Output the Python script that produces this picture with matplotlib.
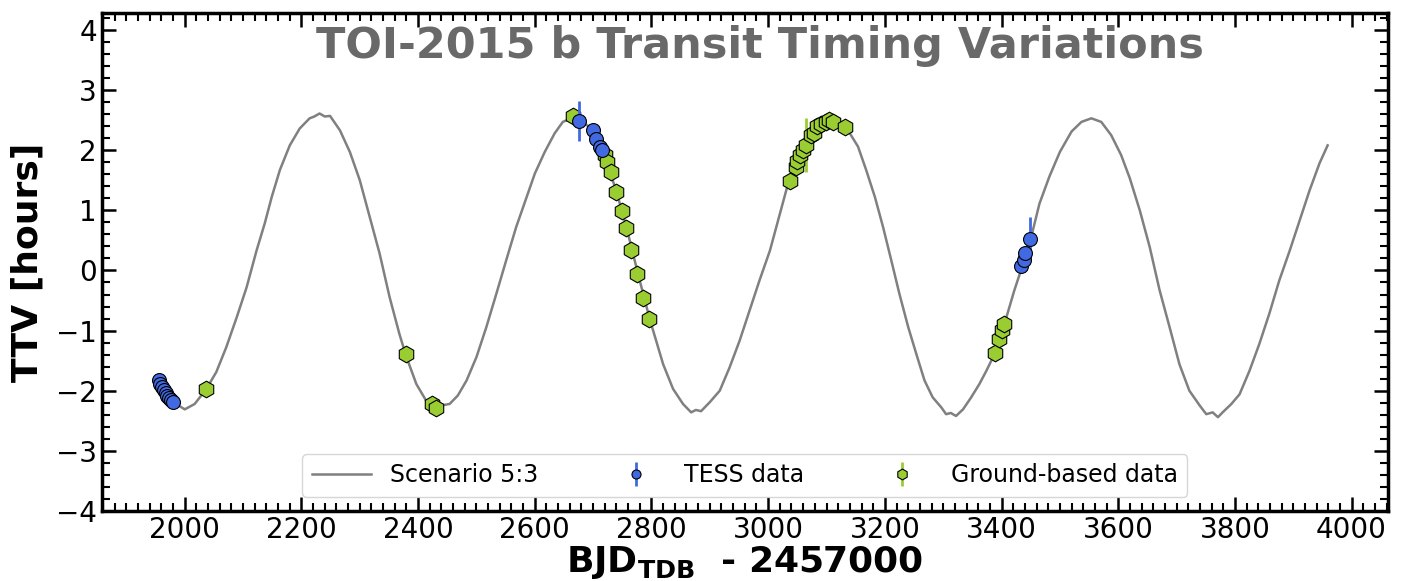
import numpy as np
import matplotlib.pyplot as plt
from matplotlib.ticker import MultipleLocator

# model curve, scenario 5:3
model_t = [1955, 1980, 2000, 2017, 2037, 2054, 2071, 2089, 2106, 2123, 2137, 2149,
           2163, 2180, 2197, 2214, 2222, 2231, 2240, 2249, 2266, 2283, 2300, 2317,
           2334, 2351, 2368, 2380, 2397, 2414, 2437, 2454, 2468, 2483, 2500, 2517,
           2534, 2551, 2568, 2586, 2600, 2617, 2634, 2648, 2660, 2670, 2685, 2700,
           2712, 2723, 2740, 2757, 2777, 2797, 2820, 2837, 2854, 2868, 2876, 2885,
           2900, 2917, 2934, 2951, 2968, 2985, 3003, 3020, 3034, 3048, 3065, 3083,
           3105, 3122, 3140, 3154, 3168, 3183, 3197, 3211, 3225, 3240, 3254, 3268,
           3282, 3297, 3305, 3313, 3322, 3334, 3348, 3362, 3374, 3388, 3405, 3422,
           3437, 3451, 3465, 3482, 3500, 3520, 3537, 3554, 3571, 3588, 3605, 3620,
           3637, 3654, 3671, 3688, 3705, 3722, 3740, 3751, 3762, 3771, 3779, 3794,
           3808, 3825, 3842, 3859, 3876, 3894, 3911, 3928, 3945, 3959]
model_ttv = [-1.83, -2.19, -2.31, -2.22, -1.97, -1.69, -1.28, -0.78, -0.28, 0.33, 0.78, 1.22,
             1.67, 2.08, 2.36, 2.53, 2.56, 2.61, 2.56, 2.57, 2.33, 1.97, 1.50, 0.89,
             0.28, -0.44, -1.06, -1.44, -1.89, -2.17, -2.25, -2.22, -2.08, -1.83, -1.44, -0.94,
             -0.39, 0.17, 0.72, 1.22, 1.61, 1.97, 2.28, 2.47, 2.52, 2.55, 2.45, 2.33,
             2.06, 1.81, 1.31, 0.72, -0.06, -0.81, -1.56, -1.97, -2.22, -2.36, -2.32, -2.34,
             -2.19, -2.00, -1.61, -1.17, -0.67, -0.17, 0.33, 0.94, 1.44, 1.72, 2.06, 2.36,
             2.53, 2.47, 2.28, 2.06, 1.67, 1.22, 0.72, 0.17, -0.39, -0.94, -1.39, -1.83,
             -2.11, -2.28, -2.39, -2.37, -2.42, -2.31, -2.11, -1.89, -1.67, -1.39, -0.89, -0.33,
             0.11, 0.56, 1.11, 1.56, 1.97, 2.31, 2.47, 2.53, 2.47, 2.25, 1.92, 1.53,
             1.00, 0.39, -0.33, -0.94, -1.56, -2.00, -2.25, -2.39, -2.36, -2.44, -2.36, -2.22,
             -2.06, -1.67, -1.22, -0.72, -0.17, 0.33, 0.83, 1.33, 1.78, 2.08]

# TESS transits
tess_t = [1955, 1958, 1961, 1964, 1967, 1970, 1973, 1977, 1980,
          2676, 2700, 2705, 2712, 2716,
          3434, 3438, 3441, 3448]
tess_ttv = [-1.83, -1.88, -1.93, -1.98, -2.03, -2.08, -2.12, -2.16, -2.19,
            2.49, 2.33, 2.18, 2.06, 2.01,
            0.07, 0.17, 0.29, 0.53]
tess_err = [0.02, 0.02, 0.02, 0.02, 0.02, 0.02, 0.02, 0.02, 0.02,
            0.33, 0.03, 0.03, 0.03, 0.03,
            0.03, 0.03, 0.03, 0.36]

# ground-based transits
gb_t = [2037, 2379, 2424, 2431,
        2666, 2720, 2723, 2730, 2739, 2749, 2756, 2765, 2776, 2786, 2796,
        3037, 3047, 3050, 3055, 3059, 3064, 3074, 3078, 3083, 3091, 3099, 3104, 3111, 3131,
        3388, 3396, 3401, 3405]
gb_ttv = [-1.97, -1.39, -2.22, -2.28,
          2.57, 1.92, 1.81, 1.63, 1.30, 0.99, 0.71, 0.34, -0.06, -0.46, -0.81,
          1.48, 1.72, 1.82, 1.92, 2.00, 2.08, 2.25, 2.28, 2.40, 2.44, 2.47, 2.51, 2.47, 2.38,
          -1.38, -1.14, -0.99, -0.89]
gb_err = [0.03, 0.03, 0.03, 0.03,
          0.03, 0.03, 0.03, 0.03, 0.03, 0.03, 0.08, 0.03, 0.03, 0.03, 0.03,
          0.03, 0.03, 0.03, 0.03, 0.03, 0.45, 0.03, 0.03, 0.03, 0.03, 0.03, 0.03, 0.03, 0.03,
          0.03, 0.03, 0.03, 0.03]

fig = plt.figure(figsize=(14.06, 5.81), dpi=100)
ax = fig.add_axes([0.0725, 0.1205, 0.9145, 0.857])

ax.plot(model_t, model_ttv, color='grey', lw=1.8, label='Scenario 5:3', zorder=1)
ax.errorbar(tess_t, tess_ttv, yerr=tess_err, fmt='o', color='royalblue',
            mec='black', mew=0.8, ms=10, elinewidth=2, label='TESS data', zorder=3)
ax.errorbar(gb_t, gb_ttv, yerr=gb_err, fmt='h', color='yellowgreen',
            mec='black', mew=0.8, ms=12, elinewidth=2, label='Ground-based data', zorder=2)

ax.set_xlim(1858, 4062)
ax.set_ylim(-4, 4.28)
ax.xaxis.set_major_locator(MultipleLocator(200))
ax.xaxis.set_minor_locator(MultipleLocator(20))
ax.yaxis.set_major_locator(MultipleLocator(1))
ax.yaxis.set_minor_locator(MultipleLocator(0.2))
ax.tick_params(which='both', direction='in', top=True, right=True, labelsize=20)
ax.tick_params(which='major', length=10, width=1.8)
ax.tick_params(which='minor', length=6, width=1.5)
for s in ax.spines.values():
    s.set_linewidth(2.5)

ax.set_xlabel(r'BJD$_{\mathbf{TDB}}$  - 2457000', fontsize=26, fontweight='bold', labelpad=0)
ax.set_ylabel('TTV [hours]', fontsize=26, fontweight='bold', labelpad=8)
ax.text(0.512, 0.933, 'TOI-2015 b Transit Timing Variations', transform=ax.transAxes,
        ha='center', va='center', fontsize=31, fontweight='bold', color='dimgrey')

ax.legend(loc='lower center', ncol=3, fontsize=17, columnspacing=2.9, handlelength=2.5,
          markerscale=0.65, bbox_to_anchor=(0.5, 0.005))

fig.savefig('out.png', dpi=100)
